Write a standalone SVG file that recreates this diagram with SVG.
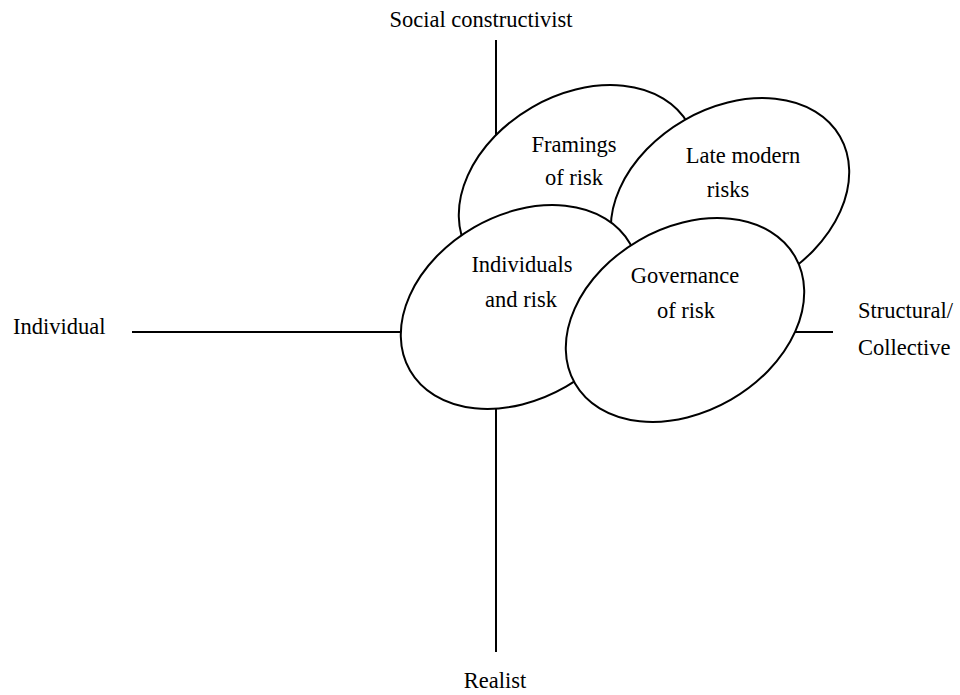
<svg xmlns="http://www.w3.org/2000/svg" width="960" height="695" viewBox="0 0 960 695">
<style>
.ax{stroke:#000;stroke-width:2;fill:none}
.el{fill:#fff;stroke:#000;stroke-width:2}
text{font-family:"Liberation Serif","DejaVu Serif",serif;font-size:22.5px;fill:#000}
.c{text-anchor:middle}
</style>
<rect width="960" height="695" fill="#fff"/>
<g id="axes">
<line class="ax" x1="496" y1="40" x2="496" y2="652"/>
<line class="ax" x1="132" y1="332" x2="833" y2="332"/>
</g>
<g id="axis-labels">
<text x="481" y="27" class="c">Social constructivist</text>
<text x="495" y="688" class="c">Realist</text>
<text x="13" y="334">Individual</text>
<text x="858" y="318">Structural/</text>
<text x="858" y="355">Collective</text>
</g>
<g id="framings">
<ellipse class="el" cx="0" cy="0" rx="127" ry="92" transform="translate(578 187) rotate(-30)"/>
<text x="574" y="152" class="c">Framings</text>
<text x="574" y="185" class="c">of risk</text>
</g>
<g id="late-modern">
<ellipse class="el" cx="0" cy="0" rx="127" ry="92" transform="translate(730 200) rotate(-30)"/>
<text x="743" y="163" class="c">Late modern</text>
<text x="728" y="197" class="c">risks</text>
</g>
<g id="individuals">
<ellipse class="el" cx="0" cy="0" rx="127" ry="92" transform="translate(520 307) rotate(-30)"/>
<text x="522" y="272" class="c">Individuals</text>
<text x="521" y="307" class="c">and risk</text>
</g>
<g id="governance">
<ellipse class="el" cx="0" cy="0" rx="127" ry="92" transform="translate(685 320) rotate(-30)"/>
<text x="685" y="283" class="c">Governance</text>
<text x="686" y="318" class="c">of risk</text>
</g>
</svg>
